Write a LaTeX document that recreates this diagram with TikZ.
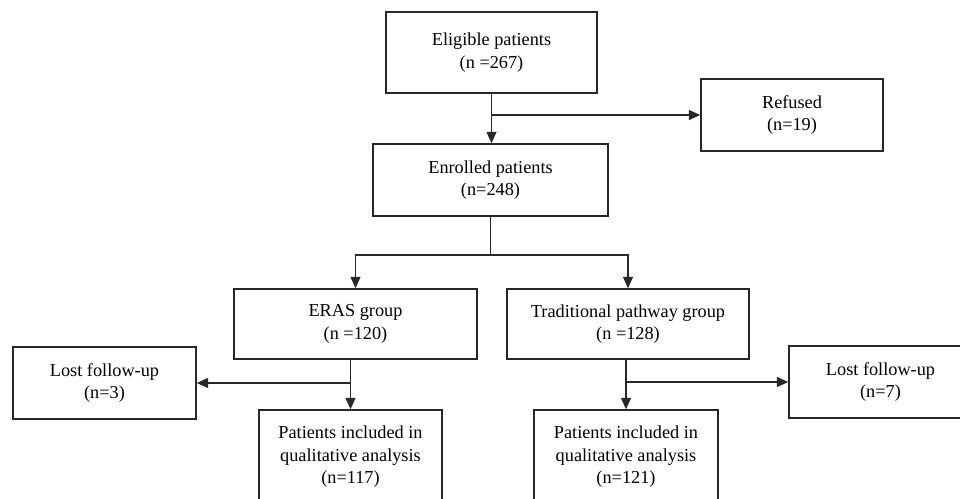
\documentclass[tikz,border=0pt]{standalone}
\usepackage{fontspec}
\setmainfont{Liberation Serif}
\usepackage{xcolor}
\definecolor{line_gray}{RGB}{40,40,40}
\usetikzlibrary{arrows.meta}

\tikzset{
  box/.style = {draw = line_gray, line width = 0.8pt, rectangle, align = center,
                inner sep = 2pt, font = \fontsize{10.4}{12.8}\selectfont},
  arr/.style = {line width = 0.9pt, draw = line_gray, -{Triangle[length=6.5pt, width=5.6pt]}},
  link/.style = {line width = 0.9pt, draw = line_gray}
}

\begin{document}
\begin{tikzpicture}[x = 0.02cm, y = -0.02cm]
\useasboundingbox (0, 0) rectangle (960, 499);

% top part
\node[box, minimum width = 211*0.02cm, minimum height = 81*0.02cm] (elig) at (491.5, 52.5) {Eligible patients\\(n =267)};
\node[box, minimum width = 182*0.02cm, minimum height = 72*0.02cm] (refused) at (792, 115) {Refused\\(n=19)};
\node[box, minimum width = 235*0.02cm, minimum height = 72*0.02cm] (enrolled) at (490.5, 180) {Enrolled patients\\(n=248)};

% groups
\node[box, minimum width = 243*0.02cm, minimum height = 70*0.02cm] (eras) at (355.5, 324) {ERAS group\\(n =120)};
\node[box, minimum width = 242*0.02cm, minimum height = 70*0.02cm] (trad) at (628, 324) {Traditional pathway group\\(n =128)};

% lost and included
\node[box, minimum width = 183*0.02cm, minimum height = 72*0.02cm] (lost_left) at (104.5, 383) {Lost follow-up\\(n=3)};
\node[box, minimum width = 183*0.02cm, minimum height = 72*0.02cm] (lost_right) at (880.5, 382) {Lost follow-up\\(n=7)};
\node[box, minimum width = 183*0.02cm, minimum height = 94*0.02cm] (incl_left) at (350.5, 457) {Patients included in\\qualitative analysis\\(n=117)};
\node[box, minimum width = 184*0.02cm, minimum height = 94*0.02cm] (incl_right) at (626, 457) {Patients included in\\qualitative analysis\\(n=121)};

\coordinate (split) at (enrolled.south |- 0, 255);

% connectors
\draw[arr] (elig.south) -- (elig.south |- enrolled.north);
\draw[arr] (elig.south |- refused.west) -- (refused.west);
\draw[link] (enrolled.south) -- (split);
\draw[arr] (split) -| (eras.north);
\draw[arr] (split) -| (trad.north);

\draw[arr] (incl_left.north |- eras.south) -- (incl_left.north);
\draw[arr] (incl_left.north |- lost_left.east) -- (lost_left.east);
\draw[arr] (incl_right.north |- trad.south) -- (incl_right.north);
\draw[arr] (incl_right.north |- lost_right.west) -- (lost_right.west);

\end{tikzpicture}
\end{document}
